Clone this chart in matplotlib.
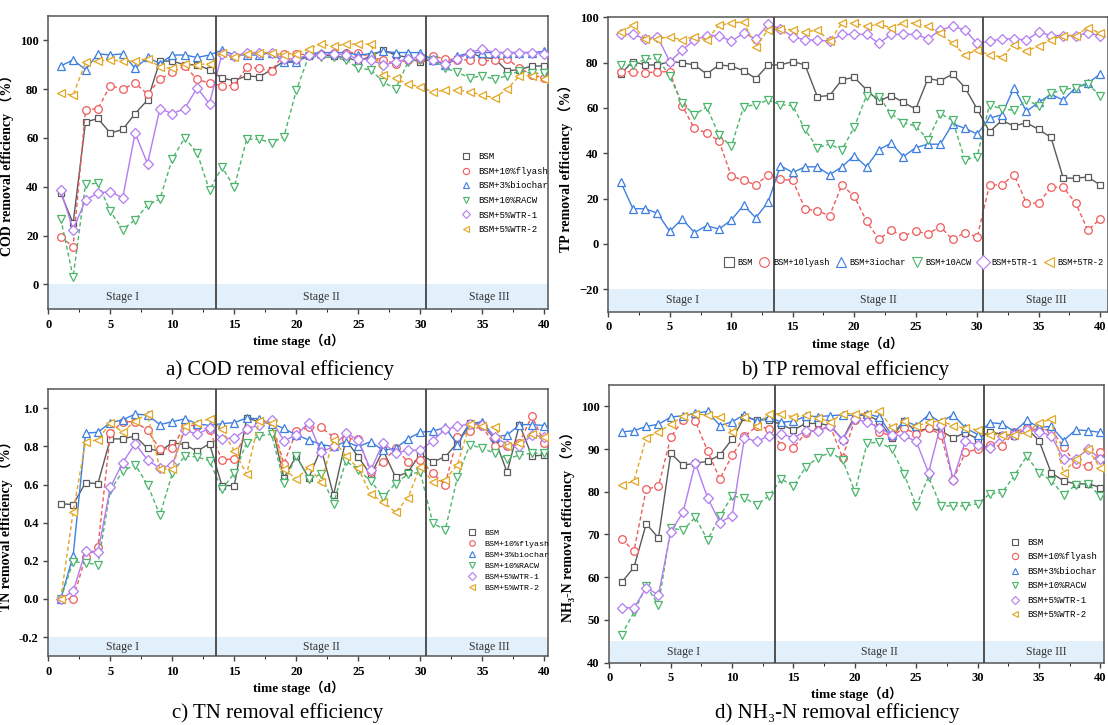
import numpy as np
import matplotlib
matplotlib.use('Agg')
import matplotlib.pyplot as plt
from matplotlib.lines import Line2D
from matplotlib.ticker import FormatStrFormatter

plt.rcParams['font.family'] = ['Liberation Serif', 'DejaVu Serif', 'Noto Sans CJK SC']

# ---- data ----
days = np.arange(1, 41)
labels = ['BSM', 'BSM+10%flyash', 'BSM+3%biochar', 'BSM+10%RACW', 'BSM+5%WTR-1', 'BSM+5%WTR-2']
labels_b = ['BSM', 'BSM+10lyash', 'BSM+3iochar', 'BSM+10ACW', 'BSM+5TR-1', 'BSM+5TR-2']
stage_names = ['Stage I', 'Stage II', 'Stage III']

# COD removal efficiency (%)
cod_bsm = [37.5, 25, 66.5, 68, 62, 63.5, 70, 75.5, 91.5, 91.5, 90, 90, 88,
           84.5, 83.5, 85.5, 85, 88, 91.5, 91.5, 93.5, 94, 93.5, 93, 91.5, 93.5, 96, 94, 93, 91,
           92.5, 90, 92.5, 95, 93, 92.5, 87.5, 88, 89.5, 89.5]
cod_flyash = [19.5, 15.5, 71.5, 72, 81.5, 80, 82.5, 78, 84, 87, 89.5, 84, 82.5,
              81.5, 81.5, 89, 88.5, 87.5, 94.5, 94.5, 94, 94.5, 95, 95, 95, 93, 92, 90.5, 92, 92.5,
              93.5, 92.5, 92, 92, 91.5, 92, 92.5, 88.5, 86, 84.5]
cod_biochar = [89.5, 92, 88, 94.5, 94, 94.5, 88.5, 93, 90.5, 94, 94, 93, 94,
               96, 94, 94, 94, 95, 91, 91, 94.5, 95, 95, 95, 94, 94.5, 95.5, 95, 95, 95,
               92, 90, 93.5, 95, 95, 95, 95, 95, 95, 95.5]
cod_racw = [27, 3, 41, 41.5, 30, 22.5, 26.5, 32.5, 35, 51.5, 60, 54, 38.5,
            48, 40, 59.5, 59.5, 58, 60.5, 79.5, 93.5, 93, 93, 92, 88.5, 88, 83, 80, 91, 92,
            92, 88.5, 87, 84.5, 85.5, 84, 85.5, 87.5, 86.5, 86.5]
cod_wtr1 = [38.5, 22.5, 34.5, 37.5, 38, 35.5, 62, 49.5, 72, 70, 72, 80.5, 74,
            94.5, 93.5, 95, 95, 95, 92.5, 92.5, 94, 94, 94.5, 94, 92.5, 92, 90, 91, 92.5, 93,
            92, 90.5, 92.5, 95, 96.5, 95, 95, 95, 95, 94.5]
cod_wtr2 = [78.5, 77.5, 91, 91.5, 92, 91.5, 91.5, 92.5, 89, 88.5, 90.5, 90, 90.5,
            95, 93, 94.5, 95, 95, 94, 94.5, 96.5, 98.5, 97.5, 98.5, 98.5, 98.5, 86, 84.5, 82, 81,
            79, 79.5, 79.5, 79, 77.5, 76.5, 80, 85.5, 85.5, 84]

# TP removal efficiency (%)
tp_bsm = [75, 80.5, 79, 79, 80.5, 80, 79, 75, 79, 78.5, 76.5, 73, 79,
          79, 80.5, 79, 65, 65.5, 72.5, 73.5, 68, 63, 65.5, 62.5, 59.5, 73, 72, 75, 69, 59.5,
          49.5, 54.5, 52, 53.5, 50.5, 47, 29, 29, 29.5, 26]
tp_flyash = [76, 76, 75.5, 76, 76, 61, 51, 49, 45.5, 30, 28, 26, 30.5,
             28.5, 28, 15.5, 14.5, 12.5, 26, 21, 10, 2, 6, 3.5, 5.5, 4.5, 7.5, 2, 5, 3,
             26, 26, 30.5, 18, 18, 25, 25, 18, 6, 11]
tp_biochar = [27.5, 15.5, 15.5, 13.5, 5.5, 11, 5, 8, 6.5, 10.5, 17, 11.5, 18.5,
              34.5, 31.5, 34, 34, 30.5, 34, 39, 34, 41.5, 44.5, 38.5, 42.5, 44, 44, 53, 51, 48.5,
              55.5, 57, 69, 58.5, 62.5, 66, 63.5, 69, 71, 75]
tp_racw = [79, 79, 81.5, 82, 74, 62, 57, 60.5, 48, 43, 60.5, 61.5, 63.5,
           61.5, 61, 50.5, 42.5, 44, 41.5, 51.5, 65.5, 65, 57.5, 53.5, 52, 46, 57.5, 54.5, 37, 38.5,
           61.5, 59.5, 59, 63.5, 61, 66.5, 68, 69, 70.5, 65.5]
tp_wtr1 = [92.5, 92.5, 90.5, 91.5, 80.5, 85.5, 90, 92, 92, 89.5, 93, 90.5, 97,
           95, 91.5, 90, 90, 89.5, 92.5, 92.5, 92.5, 88.5, 92.5, 92.5, 92.5, 90.5, 94.5, 96, 94.5, 88.5,
           89.5, 90.5, 90.5, 90, 93.5, 92, 92, 92, 93, 92]
tp_wtr2 = [93.5, 96.5, 90.5, 90.5, 91.5, 90, 91.5, 90, 96.5, 97.5, 98, 87, 94.5,
           95, 94.5, 93.5, 94.5, 89.5, 97.5, 97.5, 96, 97, 95.5, 97.5, 97.5, 96, 93, 88.5, 83.5, 85.5,
           83.5, 82.5, 88, 85, 87.5, 90, 92, 92, 95.5, 93]

# TN removal efficiency
tn_bsm = [0.50, 0.495, 0.61, 0.605, 0.84, 0.84, 0.855, 0.79, 0.775, 0.82, 0.81, 0.775, 0.815,
          0.595, 0.595, 0.95, 0.93, 0.92, 0.635, 0.75, 0.635, 0.79, 0.545, 0.835, 0.745, 0.65, 0.78, 0.64, 0.665, 0.76,
          0.72, 0.745, 0.82, 0.925, 0.915, 0.84, 0.665, 0.915, 0.75, 0.755]
tn_flyash = [0.0, 0.0, 0.22, 0.27, 0.87, 0.93, 0.93, 0.885, 0.785, 0.79, 0.91, 0.91, 0.885,
             0.73, 0.735, 0.89, 0.92, 0.93, 0.71, 0.88, 0.9, 0.9, 0.85, 0.84, 0.84, 0.665, 0.72, 0.79, 0.72, 0.73,
             0.66, 0.6, 0.85, 0.88, 0.91, 0.8, 0.8, 0.82, 0.96, 0.82]
tn_biochar = [0.0, 0.225, 0.87, 0.875, 0.925, 0.94, 0.97, 0.965, 0.915, 0.93, 0.945, 0.92, 0.91,
              0.92, 0.925, 0.95, 0.945, 0.92, 0.895, 0.86, 0.835, 0.81, 0.80, 0.825, 0.80, 0.825, 0.78, 0.79, 0.84, 0.875,
              0.88, 0.9, 0.81, 0.92, 0.93, 0.85, 0.86, 0.915, 0.915, 0.91]
tn_racw = [0.0, 0.195, 0.19, 0.18, 0.57, 0.67, 0.705, 0.6, 0.44, 0.66, 0.75, 0.745, 0.725,
           0.575, 0.66, 0.82, 0.855, 0.865, 0.61, 0.75, 0.63, 0.655, 0.50, 0.725, 0.675, 0.62, 0.535, 0.605, 0.655, 0.665,
           0.40, 0.36, 0.64, 0.81, 0.79, 0.765, 0.735, 0.755, 0.765, 0.765]
tn_wtr1 = [0.0, 0.04, 0.25, 0.245, 0.585, 0.715, 0.815, 0.73, 0.685, 0.705, 0.885, 0.865, 0.895,
           0.84, 0.845, 0.89, 0.915, 0.94, 0.83, 0.86, 0.925, 0.77, 0.80, 0.87, 0.835, 0.675, 0.82, 0.765, 0.78, 0.78,
           0.83, 0.89, 0.905, 0.92, 0.915, 0.85, 0.81, 0.80, 0.86, 0.85]
tn_wtr2 = [0.0, 0.455, 0.825, 0.835, 0.925, 0.875, 0.935, 0.97, 0.68, 0.68, 0.91, 0.925, 0.945,
           0.89, 0.775, 0.655, 0.935, 0.925, 0.68, 0.63, 0.69, 0.615, 0.835, 0.75, 0.685, 0.55, 0.51, 0.455, 0.53, 0.695,
           0.615, 0.625, 0.705, 0.92, 0.905, 0.9, 0.8, 0.82, 0.865, 0.85]

# NH3-N removal efficiency (%)
nh_bsm = [58.8, 62.3, 72.5, 69.2, 89, 86.2, 86.7, 87.1, 88.6, 92.3, 97.5, 96.8, 96.9,
          95.7, 94.5, 96, 96, 95.5, 92.2, 97.8, 98, 96.5, 92.6, 96.6, 94.1, 94.9, 94.3, 92.6, 93.8, 92.4,
          94.1, 93.4, 93.1, 94.9, 92, 84.4, 82.6, 81.8, 81.9, 81]
nh_flyash = [69, 66.1, 80.6, 81.3, 92.8, 96.9, 96.6, 89.5, 83, 88.5, 93, 95.3, 94.8,
             90.8, 90.3, 93.8, 94.5, 95.3, 88, 96.9, 97.7, 94.1, 93, 94.9, 93.6, 94.9, 93.4, 82.8, 89.2, 90,
             91, 90.6, 94.1, 94.9, 94.5, 94.5, 90.5, 86.5, 86.1, 89.2]
nh_biochar = [94, 94.3, 95.3, 95.8, 97.5, 97.8, 98.4, 98.8, 95.5, 96.4, 98, 96.5, 97.5,
              96.3, 96.5, 97.7, 97.6, 97.8, 98, 97.8, 98.2, 97.5, 93.3, 96.6, 95.5, 98, 96.3, 98, 95, 93.4,
              96.2, 95.9, 94.1, 96.7, 95.1, 95.3, 92, 94.5, 94.3, 93.9]
nh_racw = [46.5, 51.8, 58, 53.5, 71.5, 71, 74, 68.7, 74.3, 79, 78.5, 77, 79,
           83, 81.3, 85.8, 88, 89.2, 87.5, 80, 91.4, 91.6, 90, 84.2, 76.7, 83.5, 76.7, 76.7, 76.7, 77.2,
           79.5, 79.8, 83.8, 88.3, 84.5, 82.6, 79.3, 81.6, 81.9, 78.9]
nh_wtr1 = [52.9, 52.8, 57.5, 55.9, 70.7, 75.2, 86.7, 78.6, 72.8, 74.4, 92.6, 91.8, 93.1,
           93.6, 92.6, 94.3, 94.2, 95.3, 92.2, 97, 96.3, 95, 93.3, 93.1, 91.8, 84.5, 95.7, 82.8, 91.8, 91,
           90.2, 93, 93.4, 94.5, 94.1, 93.1, 87.7, 87.7, 90, 87.7]
nh_wtr2 = [81.6, 82.5, 92.7, 94, 95.8, 97.7, 98.3, 97.9, 97.4, 94, 97.5, 95.3, 98.2,
           98.3, 97.5, 98, 97.3, 96.3, 98.3, 98.3, 98.2, 98.8, 95.1, 96.6, 95.3, 96.3, 96.6, 95.5, 94.9, 94.5,
           93.4, 93.4, 93.4, 93.8, 96.1, 97, 84.4, 87.7, 90, 85.5]

# ---- style ----
colors = ['#5a5a5a', '#ef5b5b', '#3d7fe0', '#4cb56c', '#b47cf0', '#e2a623']
markers = ['s', 'o', '^', 'v', 'D', '<']
msizes = [5, 5.5, 6, 6, 5, 6]
styles = ['-', (0, (3, 2)), '-', (0, (3, 2)), '-', (0, (3, 2))]
band_color = '#e2f0fb'
stage_edges = [13.5, 30.5]
stage_x = [6, 22, 35.6]


def draw_panel(ax, data, ylim, yticks, band_top, ylabel, xmax=40.3):
    ax.axhspan(ylim[0], band_top, color=band_color, lw=0, zorder=0)
    for vals, c, m, s, ls in zip(data, colors, markers, msizes, styles):
        ax.plot(days, vals, color=c, ls=ls, lw=1.0, marker=m, ms=s,
                mfc='white', mec=c, mew=0.9, zorder=3)
    for x in stage_edges:
        ax.axvline(x, color='#444444', lw=1.3, zorder=4)
    for x, name in zip(stage_x, stage_names):
        ax.text(x, (ylim[0] + band_top) / 2, name, ha='center', va='center',
                fontsize=8.5, color='#333333')
    ax.set_xlim(0, xmax)
    ax.set_ylim(*ylim)
    ax.set_yticks(yticks)
    ax.set_xticks([0, 5, 10, 15, 20, 25, 30, 35, 40])
    ax.set_xticks(np.arange(2.5, 40, 5), minor=True)
    ax.tick_params(labelsize=9, width=1, length=3.5, color='#444444')
    ax.tick_params(which='minor', length=2)
    for lab in ax.get_xticklabels() + ax.get_yticklabels():
        lab.set_fontweight('bold')
    for sp in ax.spines.values():
        sp.set_color('#555555')
        sp.set_linewidth(1.1)
    ax.set_ylabel(ylabel, fontsize=10, fontweight='bold')


def marker_handles(size):
    return [Line2D([], [], ls='none', marker=m, ms=size, mfc='white', mec=c, mew=0.8)
            for m, c in zip(markers, colors)]


fig = plt.figure(figsize=(11.08, 7.25), dpi=100)
ax_a = fig.add_axes([0.0436, 0.574, 0.451, 0.404])
ax_b = fig.add_axes([0.549, 0.570, 0.4506, 0.406])
ax_c = fig.add_axes([0.0436, 0.095, 0.451, 0.368])
ax_d = fig.add_axes([0.550, 0.086, 0.4464, 0.383])

draw_panel(ax_a, [cod_bsm, cod_flyash, cod_biochar, cod_racw, cod_wtr1, cod_wtr2],
           (-10, 110), [0, 20, 40, 60, 80, 100], 0, 'COD removal efficiency （%）')
draw_panel(ax_b, [tp_bsm, tp_flyash, tp_biochar, tp_racw, tp_wtr1, tp_wtr2],
           (-30, 100), [-20, 0, 20, 40, 60, 80, 100], -20, 'TP removal efficiency （%）', xmax=40.6)
draw_panel(ax_c, [tn_bsm, tn_flyash, tn_biochar, tn_racw, tn_wtr1, tn_wtr2],
           (-0.3, 1.1), [-0.2, 0.0, 0.2, 0.4, 0.6, 0.8, 1.0], -0.2, 'TN removal efficiency （%）')
draw_panel(ax_d, [nh_bsm, nh_flyash, nh_biochar, nh_racw, nh_wtr1, nh_wtr2],
           (40, 105), [40, 50, 60, 70, 80, 90, 100], 45, 'NH₃-N removal efficiency （%）')
ax_c.yaxis.set_major_formatter(FormatStrFormatter('%.1f'))

for ax in (ax_a, ax_b, ax_c, ax_d):
    ax.set_xlabel('time stage（d）', fontsize=9.5, fontweight='bold', labelpad=2)

mono = 'Liberation Mono'
ax_a.legend(marker_handles(4.5), labels, loc='upper left', bbox_to_anchor=(0.815, 0.55),
            frameon=False, prop={'family': mono, 'size': 6.5}, handlelength=1.2,
            handletextpad=0.8, labelspacing=0.62, borderpad=0)
ax_c.legend(marker_handles(4), labels, loc='upper left', bbox_to_anchor=(0.83, 0.49),
            frameon=False, prop={'family': mono, 'size': 6}, handlelength=1.2,
            handletextpad=0.8, labelspacing=0.38, borderpad=0)
ax_d.legend(marker_handles(4.5), labels, loc='upper left', bbox_to_anchor=(0.80, 0.465),
            frameon=False, prop={'family': mono, 'size': 6.5}, handlelength=1.2,
            handletextpad=0.8, labelspacing=0.6, borderpad=0)
ax_b.legend(marker_handles(7), labels_b, loc='center left', bbox_to_anchor=(0.225, 0.166),
            ncol=6, frameon=False, prop={'family': mono, 'size': 6.2}, handlelength=1.0,
            handletextpad=0.5, columnspacing=0.8, borderpad=0)

cap = {'fontsize': 15, 'ha': 'center', 'va': 'center'}
fig.text(0.253, 0.490, 'a) COD removal efficiency', **cap)
fig.text(0.763, 0.490, 'b) TP removal efficiency', **cap)
fig.text(0.251, 0.017, 'c) TN removal efficiency', **cap)
fig.text(0.756, 0.017, 'd) NH₃-N removal efficiency', **cap)

fig.savefig('out.png', dpi=100)
